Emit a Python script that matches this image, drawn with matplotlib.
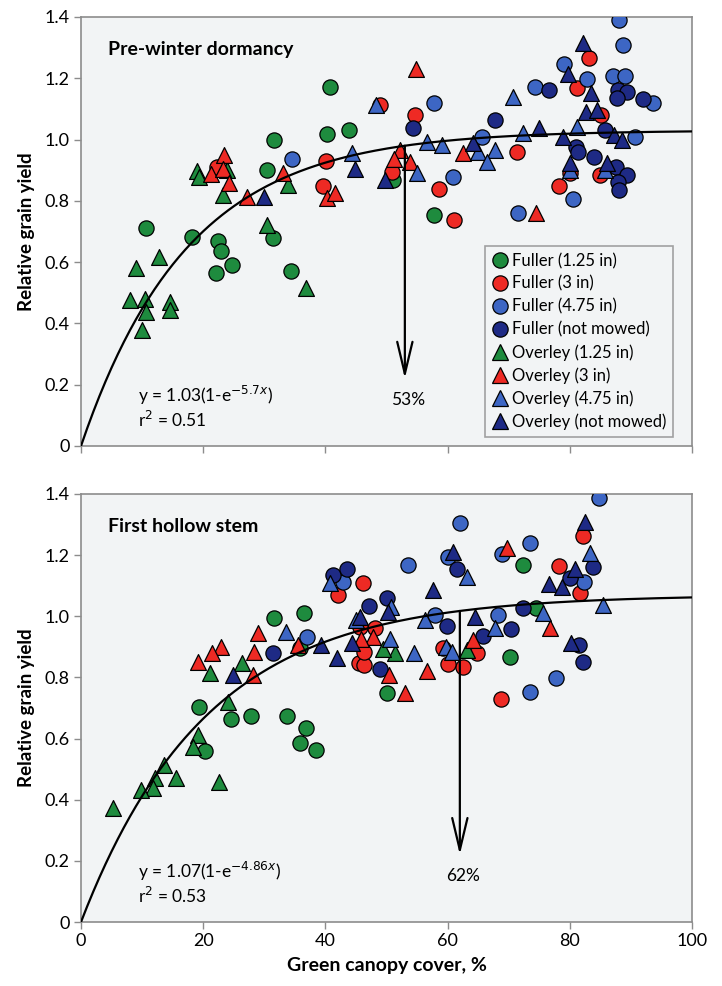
import numpy as np
import matplotlib.pyplot as plt
from matplotlib.lines import Line2D

plt.rcParams['font.family'] = ['Lato', 'DejaVu Sans']

# ---- Pre-winter dormancy (top panel) ----
pw_fuller_125_x = [40.8, 40.2, 43.9, 31.6, 30.4, 10.6, 18.1, 22.5, 22.9, 22.1, 24.7, 31.4, 34.3, 51.1, 57.8]
pw_fuller_125_y = [1.171, 1.018, 1.031, 0.998, 0.90, 0.711, 0.682, 0.67, 0.636, 0.565, 0.59, 0.678, 0.571, 0.868, 0.753]
pw_fuller_3_x = [40.1, 39.6, 22.3, 83.1, 81.2, 85.1, 80.0, 84.9, 78.2, 61.0, 58.6, 48.9, 54.7, 50.9, 71.4]
pw_fuller_3_y = [0.93, 0.848, 0.91, 1.265, 1.167, 1.08, 0.89, 0.884, 0.848, 0.737, 0.838, 1.112, 1.08, 0.894, 0.959]
pw_fuller_475_x = [34.5, 88.0, 88.7, 79.1, 82.8, 87.1, 89.0, 93.6, 90.7, 80.5, 71.5, 60.9, 57.8, 65.6, 74.3]
pw_fuller_475_y = [0.936, 1.389, 1.308, 1.245, 1.199, 1.207, 1.207, 1.12, 1.008, 0.805, 0.76, 0.877, 1.119, 1.008, 1.171]
pw_fuller_nm_x = [87.9, 89.4, 87.7, 92.0, 85.8, 81.0, 81.3, 84.0, 87.6, 89.4, 87.9, 88.1, 54.3, 67.8, 76.6]
pw_fuller_nm_y = [1.163, 1.156, 1.136, 1.131, 1.031, 0.975, 0.959, 0.943, 0.91, 0.884, 0.861, 0.835, 1.037, 1.063, 1.161]
pw_overley_125_x = [19.0, 19.3, 23.9, 23.3, 33.9, 30.4, 36.8, 12.7, 9.0, 8.0, 10.4, 10.7, 9.9, 14.6, 14.6]
pw_overley_125_y = [0.897, 0.877, 0.90, 0.818, 0.851, 0.721, 0.515, 0.617, 0.58, 0.476, 0.479, 0.437, 0.378, 0.47, 0.444]
pw_overley_3_x = [40.2, 41.6, 21.2, 23.4, 23.3, 24.3, 27.2, 33.0, 54.8, 52.2, 51.2, 53.8, 62.5, 74.5]
pw_overley_3_y = [0.81, 0.826, 0.887, 0.949, 0.905, 0.858, 0.812, 0.891, 1.23, 0.965, 0.936, 0.926, 0.955, 0.76]
pw_overley_475_x = [44.3, 48.3, 81.2, 80.0, 85.8, 55.0, 56.6, 59.1, 65.0, 67.8, 66.4, 72.3, 70.7]
pw_overley_475_y = [0.955, 1.112, 1.041, 0.90, 0.90, 0.891, 0.992, 0.982, 0.959, 0.965, 0.926, 1.021, 1.138]
pw_overley_nm_x = [44.8, 29.9, 82.2, 79.7, 83.5, 82.6, 84.5, 87.2, 88.5, 78.9, 80.0, 86.1, 49.8, 64.2, 75.0]
pw_overley_nm_y = [0.905, 0.812, 1.314, 1.213, 1.152, 1.09, 1.098, 1.014, 0.998, 1.008, 0.923, 0.923, 0.868, 0.988, 1.037]

# ---- First hollow stem (bottom panel) ----
fhs_fuller_125_x = [31.6, 36.5, 35.8, 19.3, 24.5, 27.9, 33.7, 36.8, 35.8, 38.5, 20.3, 74.5, 70.2, 72.3, 50.1]
fhs_fuller_125_y = [0.994, 1.01, 0.896, 0.703, 0.664, 0.674, 0.674, 0.633, 0.585, 0.563, 0.559, 1.027, 0.867, 1.168, 0.749]
fhs_fuller_3_x = [42.1, 45.5, 46.2, 82.2, 78.2, 81.7, 68.7, 64.8, 62.5, 60.1, 59.2, 46.3, 46.3, 48.1, 45.7]
fhs_fuller_3_y = [1.07, 0.847, 1.109, 1.263, 1.165, 1.076, 0.729, 0.88, 0.834, 0.844, 0.896, 0.841, 0.883, 0.962, 0.965]
fhs_fuller_475_x = [42.9, 37.0, 84.8, 82.3, 77.7, 73.5, 68.3, 57.9, 53.5, 62.0, 60.1, 68.9, 73.5]
fhs_fuller_475_y = [1.112, 0.932, 1.387, 1.112, 0.798, 0.752, 1.004, 1.004, 1.168, 1.305, 1.194, 1.204, 1.24]
fhs_fuller_nm_x = [41.2, 43.5, 31.4, 83.8, 80.0, 72.3, 81.5, 82.2, 70.4, 65.8, 59.9, 61.5, 48.9, 47.1, 50.1]
fhs_fuller_nm_y = [1.135, 1.155, 0.88, 1.161, 1.125, 1.027, 0.906, 0.85, 0.958, 0.936, 0.968, 1.155, 0.828, 1.034, 1.06]
fhs_overley_125_x = [26.3, 21.1, 24.1, 19.1, 18.3, 13.6, 12.1, 11.8, 9.8, 15.5, 22.6, 5.3, 63.2, 51.4, 49.4]
fhs_overley_125_y = [0.847, 0.815, 0.72, 0.612, 0.572, 0.514, 0.47, 0.438, 0.432, 0.47, 0.458, 0.373, 0.89, 0.88, 0.893]
fhs_overley_3_x = [35.5, 29.0, 28.3, 22.9, 21.4, 19.2, 28.2, 76.8, 64.2, 69.7, 56.6, 53.0, 50.4, 47.8, 45.8]
fhs_overley_3_y = [0.906, 0.945, 0.883, 0.90, 0.88, 0.85, 0.808, 0.962, 0.922, 1.223, 0.821, 0.749, 0.808, 0.932, 0.926]
fhs_overley_475_x = [40.8, 33.6, 45.0, 83.3, 85.4, 75.6, 67.8, 59.7, 60.7, 56.3, 63.2, 54.5, 50.6, 50.7]
fhs_overley_475_y = [1.109, 0.949, 0.988, 1.207, 1.037, 1.01, 0.962, 0.9, 0.883, 0.988, 1.129, 0.88, 0.926, 1.03]
fhs_overley_nm_x = [39.3, 41.9, 44.4, 24.9, 82.5, 80.9, 76.6, 78.7, 80.2, 64.5, 57.6, 60.9, 45.7, 50.2]
fhs_overley_nm_y = [0.906, 0.864, 0.913, 0.808, 1.309, 1.155, 1.105, 1.096, 0.913, 0.998, 1.086, 1.21, 0.998, 1.014]

labels = ['Fuller (1.25 in)', 'Fuller (3 in)', 'Fuller (4.75 in)', 'Fuller (not mowed)',
          'Overley (1.25 in)', 'Overley (3 in)', 'Overley (4.75 in)', 'Overley (not mowed)']
colors = ['#1E8B3E', '#EE2A24', '#3D66C4', '#1E2A85'] * 2
markers = ['o'] * 4 + ['^'] * 4

pw_series = [(pw_fuller_125_x, pw_fuller_125_y), (pw_fuller_3_x, pw_fuller_3_y),
             (pw_fuller_475_x, pw_fuller_475_y), (pw_fuller_nm_x, pw_fuller_nm_y),
             (pw_overley_125_x, pw_overley_125_y), (pw_overley_3_x, pw_overley_3_y),
             (pw_overley_475_x, pw_overley_475_y), (pw_overley_nm_x, pw_overley_nm_y)]
fhs_series = [(fhs_fuller_125_x, fhs_fuller_125_y), (fhs_fuller_3_x, fhs_fuller_3_y),
              (fhs_fuller_475_x, fhs_fuller_475_y), (fhs_fuller_nm_x, fhs_fuller_nm_y),
              (fhs_overley_125_x, fhs_overley_125_y), (fhs_overley_3_x, fhs_overley_3_y),
              (fhs_overley_475_x, fhs_overley_475_y), (fhs_overley_nm_x, fhs_overley_nm_y)]

# fitted curves y = a(1 - e^(-b x))
pw_a, pw_b, pw_thresh = 1.03, 5.7, 53
fhs_a, fhs_b, fhs_thresh = 1.07, 4.86, 62

fig = plt.figure(figsize=(7.22, 9.86), dpi=100)
ax1 = fig.add_axes([0.1122, 0.5477, 0.8463, 0.4351])
ax2 = fig.add_axes([0.1122, 0.0649, 0.8463, 0.4341])

bg = '#F2F4F5'
spine_c = '#8C8C8C'


def draw_panel(ax, series, a, b, thresh, title, eq, r2, show_xlabels):
    ax.set_facecolor(bg)
    for (xs, ys), c, m in zip(series, colors, markers):
        ax.scatter(xs, ys, s=120 if m == 'o' else 130, c=c, marker=m,
                   edgecolors='black', linewidths=0.9, zorder=3)
    xx = np.linspace(0, 100, 300)
    ax.plot(xx, a * (1 - np.exp(-b * xx / 100)), color='black', lw=1.6, zorder=4)
    ytop = a * (1 - np.exp(-b * thresh / 100))
    ax.annotate('', xy=(thresh, 0.22), xytext=(thresh, ytop),
                arrowprops=dict(arrowstyle='->,head_length=2.3,head_width=0.55',
                                mutation_scale=10, lw=1.6, color='black',
                                shrinkA=0, shrinkB=0), zorder=4)
    ax.text(thresh + 0.6, 0.15, f'{thresh}%', ha='center', va='center', fontsize=12.5)
    ax.text(4.4, 1.295, title, fontsize=14, fontweight='bold', va='center')
    ax.text(9.3, 0.166, eq, fontsize=12.5, va='center')
    ax.text(9.3, 0.085, r2, fontsize=12.5, va='center')
    ax.set_xlim(0, 100)
    ax.set_ylim(0, 1.4)
    ax.set_xticks([0, 20, 40, 60, 80, 100])
    ax.set_yticks([0, 0.2, 0.4, 0.6, 0.8, 1.0, 1.2, 1.4])
    ax.set_yticklabels(['0', '0.2', '0.4', '0.6', '0.8', '1.0', '1.2', '1.4'])
    if not show_xlabels:
        ax.set_xticklabels([])
    for sp in ax.spines.values():
        sp.set_color(spine_c)
        sp.set_linewidth(1.2)
    ax.tick_params(direction='out', length=5, width=1, color=spine_c,
                   labelsize=13, pad=3)
    ax.set_ylabel('Relative grain yield', fontsize=13.5, fontweight='bold', labelpad=7)


draw_panel(ax1, pw_series, pw_a, pw_b, pw_thresh, 'Pre-winter dormancy',
           r'y = 1.03(1-e$^{-5.7x}$)', r'r$^{2}$ = 0.51', False)
draw_panel(ax2, fhs_series, fhs_a, fhs_b, fhs_thresh, 'First hollow stem',
           r'y = 1.07(1-e$^{-4.86x}$)', r'r$^{2}$ = 0.53', True)
ax2.set_xlabel('Green canopy cover, %', fontsize=14, fontweight='bold', labelpad=6)

handles = [Line2D([], [], ls='', marker=m, color=c, markeredgecolor='black',
                  markeredgewidth=0.9, markersize=11) for c, m in zip(colors, markers)]
leg = ax1.legend(handles, labels, loc='lower right', bbox_to_anchor=(0.969, 0.021),
                 fontsize=12, frameon=True, fancybox=False, labelspacing=0.4,
                 handletextpad=0.15, handlelength=1.1, borderpad=0.4,
                 borderaxespad=0)
leg.get_frame().set_edgecolor('#8C8C8C')
leg.get_frame().set_facecolor(bg)
leg.get_frame().set_linewidth(1.2)

plt.savefig('out.png', dpi=100)
